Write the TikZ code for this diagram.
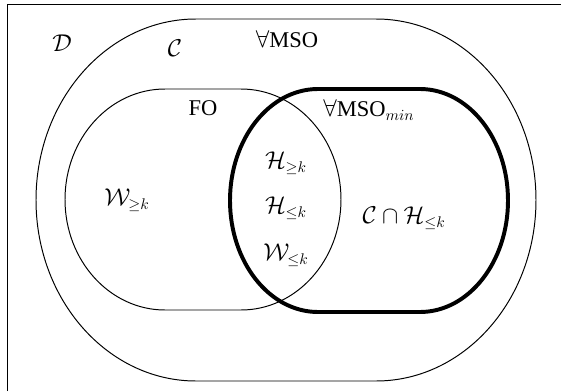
\documentclass[tikz,border=0pt]{standalone}
\usepackage{fontspec}
\setmainfont{Liberation Serif}
\usepackage{amssymb}
\begin{document}
\begin{tikzpicture}[x=0.025cm,y=0.025cm,font=\fontsize{16}{19}\selectfont,
  thinline/.style={line width=0.7pt},
  thickline/.style={line width=2.8pt}]
\useasboundingbox (0,0) rectangle (561,391);
% frame
\draw[thinline] (7.7,0) |- (561,387);
% outer set
\draw[thinline] (196,372) -- (376,372)
  arc[start angle=90,end angle=-90,x radius=160,y radius=181]
  -- (196,10)
  arc[start angle=270,end angle=90,x radius=160,y radius=181] -- cycle;
% FO
\draw[thinline] (165,302) -- (241,302)
  arc[start angle=90,end angle=-90,x radius=100,y radius=110.5]
  -- (165,81)
  arc[start angle=270,end angle=90,x radius=100,y radius=110.5] -- cycle;
% MSO min
\draw[thickline] (318,302) -- (420,302)
  arc[start angle=90,end angle=-90,x radius=88,y radius=111.5]
  -- (318,79)
  arc[start angle=270,end angle=90,x radius=88,y radius=111.5] -- cycle;
% labels
\node (lblD) at (62,348) {$\mathcal{D}$};
\node (lblC) at (175,343) {$\mathcal{C}$};
\node (mso) at (287,352) {$\forall$MSO};
\node (fo) at (203,283) {FO};
\node[anchor=west,inner sep=0pt] (msomin) at (323,281) {$\forall$MSO$_{min}$};
\node (hge) at (286,228) {$\mathcal{H}_{\geq k}$};
\node (hle) at (286,183) {$\mathcal{H}_{\leq k}$};
\node (wle) at (286,136) {$\mathcal{W}_{\leq k}$};
\node (wge) at (127,191) {$\mathcal{W}_{\geq k}$};
\node (chle) at (404,173) {$\mathcal{C}\cap\mathcal{H}_{\leq k}$};
\end{tikzpicture}
\end{document}
